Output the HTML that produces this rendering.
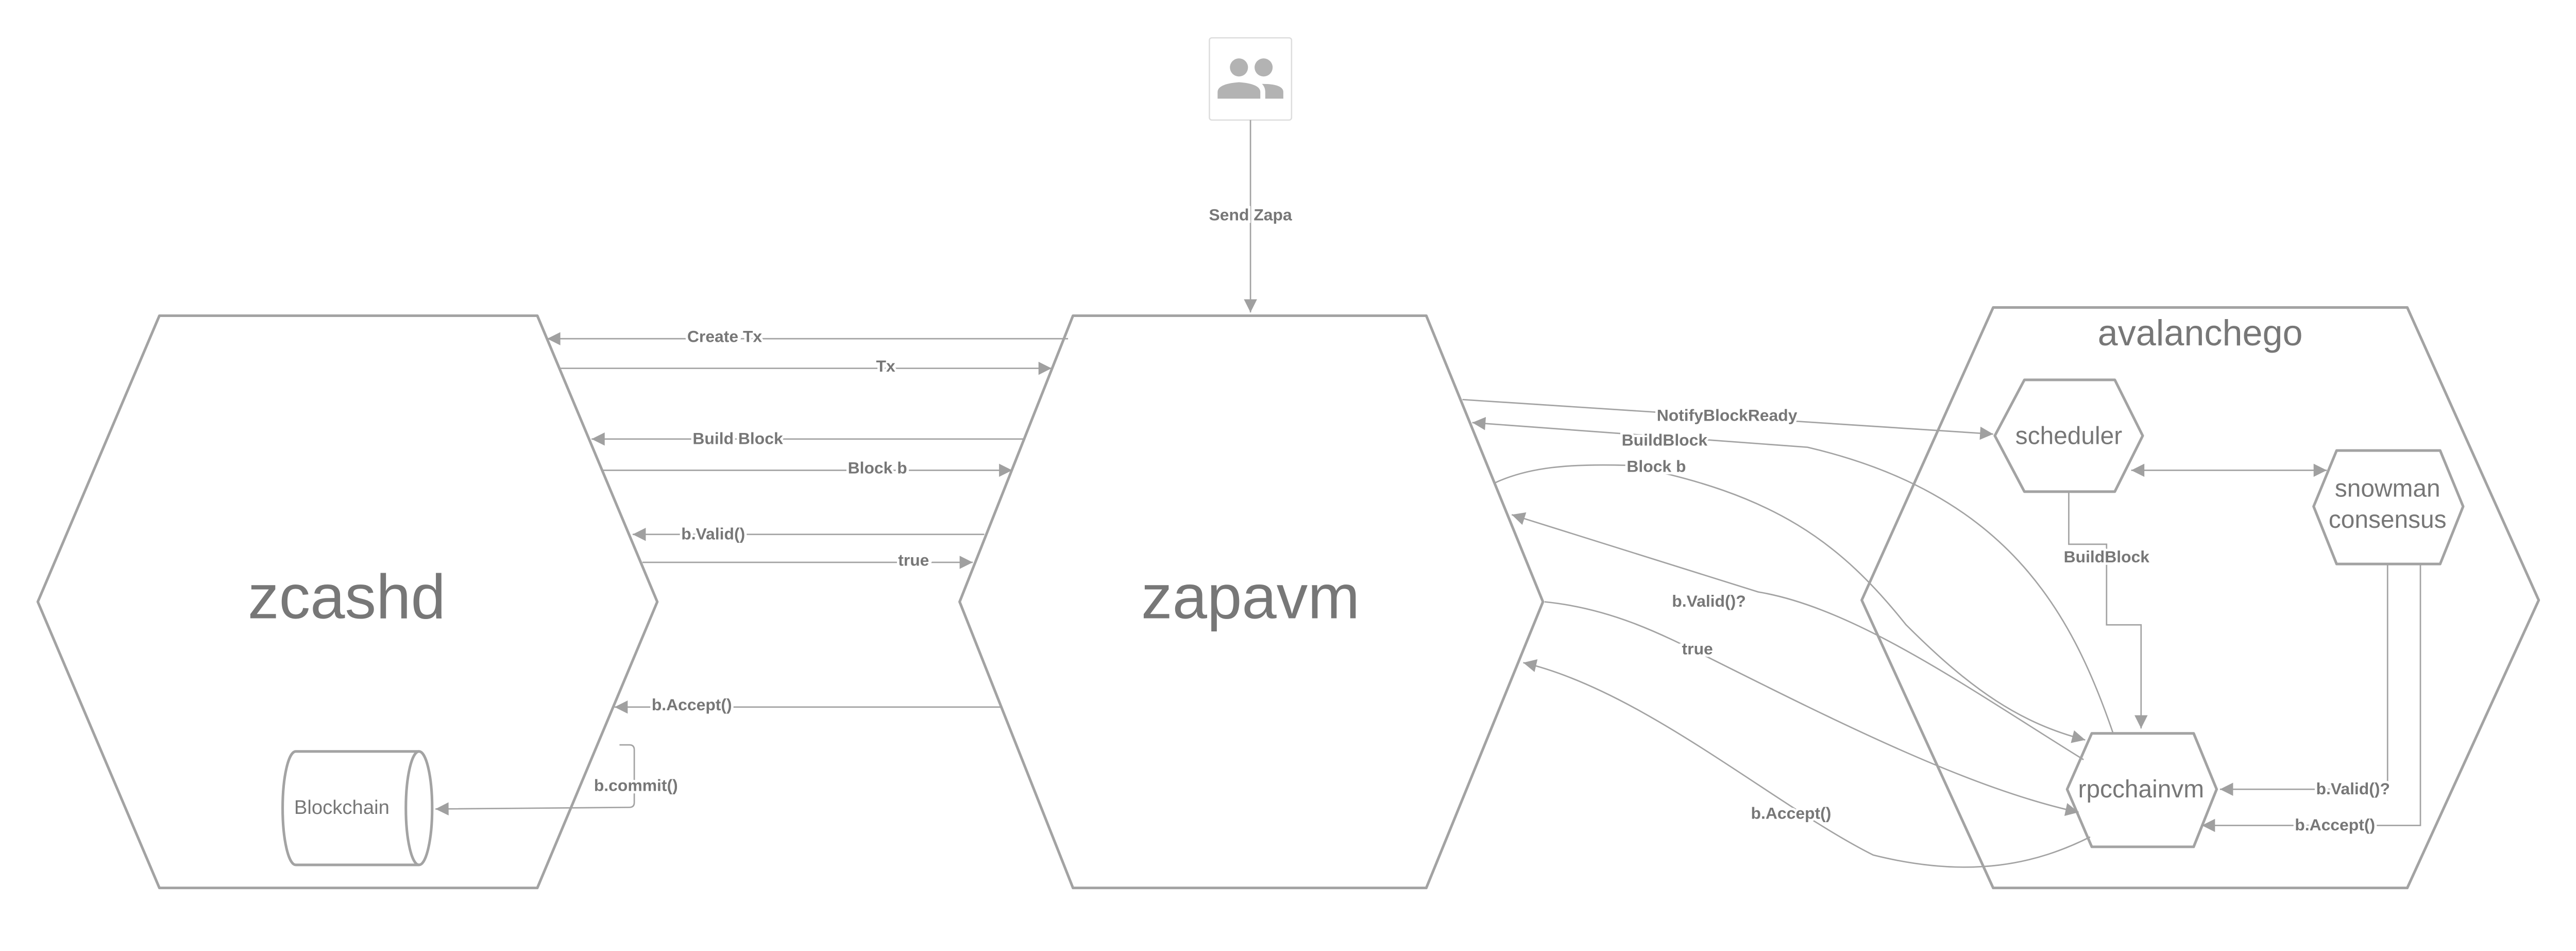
<!DOCTYPE html>
<html><head><meta charset="utf-8"><style>html,body{margin:0;padding:0;background:#fff;overflow:hidden}svg{display:block;position:absolute;left:0;top:0}</style></head>
<body>
<svg width="5001" height="1796" viewBox="0 0 1568 563" preserveAspectRatio="none" xmlns="http://www.w3.org/2000/svg">
<defs>
<marker id="a" viewBox="0 0 10 10" refX="10" refY="5" markerWidth="10" markerHeight="8" markerUnits="userSpaceOnUse" orient="auto"><path d="M0,0 L10,5 L0,10 z" fill="#a0a0a0"/></marker>
<marker id="as" viewBox="0 0 10 10" refX="0" refY="5" markerWidth="10" markerHeight="8" markerUnits="userSpaceOnUse" orient="auto"><path d="M10,0 L0,5 L10,10 z" fill="#a0a0a0"/></marker>
</defs>
<g fill="none" stroke="#a3a3a3" stroke-width="1.6" stroke-linejoin="round">
<polygon points="97,192 327,192 400,366 327,540 97,540 23,366"/>
<polygon points="653,192 868,192 939,366 868,540 653,540 584,366"/>
<polygon points="1213,187 1465,187 1545,365 1465,540 1213,540 1133,365"/>
<polygon points="1232,231 1287,231 1304,265 1287,299 1232,299 1214,265"/>
<polygon points="1422,274 1485,274 1499,308 1485,343 1422,343 1408,308"/>
<polygon points="1273,446 1335,446 1349,480 1335,515 1273,515 1258,480"/>
<path d="M180,457 H255 A8,34.5 0 0 1 255,526 H180 A8,34.5 0 0 1 180,457 Z"/>
<path d="M255,457 A8,34.5 0 0 0 255,526"/>
</g>
<rect x="736" y="23" width="50" height="50" rx="1.5" fill="#fff" stroke="#ddd" stroke-width="0.8"/>
<g fill="#b3b3b3">
<circle cx="754" cy="41" r="5.5"/><circle cx="769" cy="41" r="5.5"/>
<path d="M741,60 V56 Q741,51 754,50 Q767,51 767,56 V60 Z"/>
<path d="M768,51 Q781,51 781,56 V60 H770 V56 Q770,53 768,51 Z"/>
</g>
<g fill="none" stroke="#a3a3a3" stroke-width="0.85">
<path d="M650,206 H333" marker-end="url(#a)"/>
<path d="M340,224 H640" marker-end="url(#a)"/>
<path d="M624,267 H360" marker-end="url(#a)"/>
<path d="M366,286 H616" marker-end="url(#a)"/>
<path d="M599,325 H385" marker-end="url(#a)"/>
<path d="M391,342 H592" marker-end="url(#a)"/>
<path d="M609,430 H374" marker-end="url(#a)"/>
<path d="M377,453 H383 Q386,453 386,456 V488 Q386,491 383,491 L265,492" marker-end="url(#a)"/>
<path d="M761,73 V190" marker-end="url(#a)"/>
<path d="M890,243 L1213,264" marker-end="url(#a)"/>
<path d="M1286,446 C1260,370 1220,300 1100,272 L896,257" marker-end="url(#a)"/>
<path d="M909,294 C930,284 955,282 990,283 C1080,300 1120,330 1160,380 C1200,420 1230,440 1269,450" marker-end="url(#a)"/>
<path d="M1268,462 C1200,420 1130,370 1070,360 L920,313" marker-end="url(#a)"/>
<path d="M940,366 C980,370 1010,385 1040,400 C1120,440 1200,480 1265,494" marker-end="url(#a)"/>
<path d="M1272,509 C1240,525 1200,535 1140,520 C1080,490 1000,420 927,403" marker-end="url(#a)"/>
<path d="M1297,286 H1416" marker-start="url(#as)" marker-end="url(#a)"/>
<path d="M1259,299 V331 H1282 V380 H1303 V443" marker-end="url(#a)"/>
<path d="M1453,343 V480 H1351" marker-end="url(#a)"/>
<path d="M1473,343 V502 H1340" marker-end="url(#a)"/>
</g>
<g font-family="Liberation Sans, sans-serif" fill="#777" text-anchor="middle">
<text x="211" y="376" font-size="38">zcashd</text>
<text x="761" y="376" font-size="38">zapavm</text>
<text x="1339" y="210" font-size="22">avalanchego</text>
<text x="1259" y="270" font-size="15">scheduler</text>
<text x="1453" y="302" font-size="15">snowman</text>
<text x="1453" y="321" font-size="15">consensus</text>
<text x="1303" y="485" font-size="15">rpcchainvm</text>
<text x="208" y="495" font-size="12">Blockchain</text>
</g>
<g font-family="Liberation Sans, sans-serif" fill="#777" font-size="10" font-weight="bold" text-anchor="middle" stroke="#fff" stroke-width="3" paint-order="stroke">
<text x="441" y="208">Create Tx</text>
<text x="539" y="226">Tx</text>
<text x="449" y="270">Build Block</text>
<text x="534" y="288">Block b</text>
<text x="434" y="328">b.Valid()</text>
<text x="556" y="344">true</text>
<text x="421" y="432">b.Accept()</text>
<text x="387" y="481">b.commit()</text>
<text x="761" y="134">Send Zapa</text>
<text x="1051" y="256">NotifyBlockReady</text>
<text x="1013" y="271">BuildBlock</text>
<text x="1008" y="287">Block b</text>
<text x="1040" y="369">b.Valid()?</text>
<text x="1033" y="398">true</text>
<text x="1090" y="498">b.Accept()</text>
<text x="1282" y="342">BuildBlock</text>
<text x="1432" y="483">b.Valid()?</text>
<text x="1421" y="505">b.Accept()</text>
</g>
</svg>
</body></html>
